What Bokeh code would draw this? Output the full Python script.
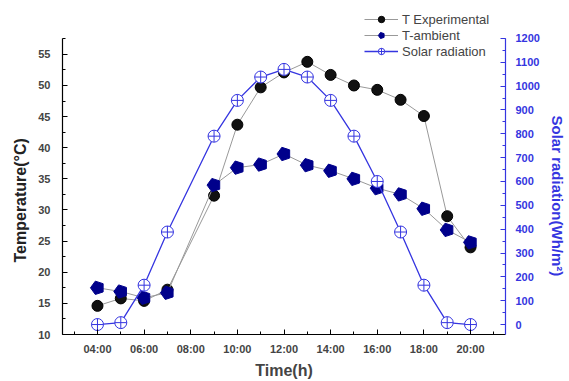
import numpy as np
from bokeh.plotting import figure
from bokeh.models import Range1d, LinearAxis, FixedTicker, Legend, LegendItem, Title
from bokeh.embed import file_html
from bokeh.resources import INLINE

hours = [4, 5, 6, 7, 9, 10, 11, 12, 13, 14, 15, 16, 17, 18, 19, 20]
t_exp = [14.6, 15.8, 15.4, 17.2, 32.3, 43.7, 49.7, 52.1, 53.8, 51.7, 50.0, 49.3, 47.7, 45.1, 29.0, 24.0]
t_amb = [17.5, 16.9, 15.9, 16.7, 34.0, 36.8, 37.3, 39.0, 37.2, 36.3, 35.0, 33.5, 32.5, 30.2, 26.8, 24.8]
solar = [0, 8, 165, 388, 790, 940, 1038, 1070, 1038, 940, 790, 600, 388, 165, 8, 0]

x_ticks = [4, 6, 8, 10, 12, 14, 16, 18, 20]
x_tick_labels = ["04:00", "06:00", "08:00", "10:00", "12:00", "14:00", "16:00", "18:00", "20:00"]
x_minor = [3, 5, 7, 9, 11, 13, 15, 17, 19, 21]
temp_ticks = [10, 15, 20, 25, 30, 35, 40, 45, 50, 55]
solar_ticks = [0, 100, 200, 300, 400, 500, 600, 700, 800, 900, 1000, 1100, 1200]

FONT = "Liberation Sans"
BLUE = "#3535E0"
NAVY = "#00008B"

TEMP_LO, TEMP_AX_HI, TEMP_HI = 10, 57.57, 62.85
SOL_LO, SOL_AX_HI, SOL_HI = -41.8, 1200, 1338

p = figure(width=569, height=381, output_backend="svg", toolbar_location=None,
           x_range=Range1d(2.5, 21.5), y_range=Range1d(TEMP_LO, TEMP_HI),
           min_border_left=62, min_border_right=64, min_border_top=5, min_border_bottom=46)
p.outline_line_color = None
p.xgrid.visible = False
p.ygrid.visible = False
p.extra_y_ranges = {"solar": Range1d(SOL_LO, SOL_HI)}

# x axis
xa = p.xaxis[0]
xa.ticker = FixedTicker(ticks=x_ticks, minor_ticks=x_minor)
xa.major_label_overrides = {t: l for t, l in zip(x_ticks, x_tick_labels)}
xa.axis_label = "Time(h)"

# left axis
ya = p.yaxis[0]
ya.ticker = FixedTicker(ticks=temp_ticks, minor_ticks=list(np.arange(10, 57.6, 2.5)))
ya.bounds = (TEMP_LO, TEMP_AX_HI)

# right axis
ra = LinearAxis(y_range_name="solar")
ra.ticker = FixedTicker(ticks=solar_ticks, minor_ticks=list(range(0, 1201, 50)))
ra.bounds = (SOL_LO, SOL_AX_HI)
p.add_layout(ra, "right")

for ax in [xa, ya, ra]:
    ax.major_tick_in = 5
    ax.major_tick_out = 0
    ax.minor_tick_in = 3
    ax.minor_tick_out = 0
    ax.major_label_text_font = FONT
    ax.major_label_text_font_style = "bold"
    ax.major_label_text_font_size = "11px"
    ax.axis_label_text_font = FONT
    ax.axis_label_text_font_style = "bold"
    ax.axis_label_text_font_size = "16px"
    ax.axis_line_width = 1.2

xa.major_label_standoff = 8
xa.axis_label_standoff = 4
ya.major_label_standoff = 12
ra.major_label_standoff = 10

ra.axis_line_color = BLUE
ra.major_tick_line_color = BLUE
ra.minor_tick_line_color = BLUE
ra.major_label_text_color = BLUE

# axis titles (as side titles so they can be placed along the drawn axis)
t_left = Title(text="Temperature(°C)", align="left", offset=72, standoff=13,
               text_font=FONT, text_font_style="bold", text_font_size="16px", text_color="#222222")
p.add_layout(t_left, "left")
t_right = Title(text="Solar radiation(Wh/m²)", align="left", offset=110, standoff=8,
                vertical_align="top",
                text_font=FONT, text_font_style="bold", text_font_size="15px", text_color=BLUE)
p.add_layout(t_right, "right")

# series
l_exp = p.line(hours, t_exp, line_color="#999999", line_width=1)
s_exp = p.scatter(hours, t_exp, marker="circle", size=11, fill_color="#111111", line_color="#000000")

l_amb = p.line(hours, t_amb, line_color="#999999", line_width=1)
s_amb = p.ngon(x=hours, y=t_amb, radius=7, radius_units="screen", n=5, angle=np.pi / 2,
               fill_color=NAVY, line_color=NAVY)

l_sol = p.line(hours, solar, y_range_name="solar", line_color=BLUE, line_width=1.3)
s_sol = p.scatter(hours, solar, y_range_name="solar", marker="circle_cross", size=12,
                  fill_color="white", line_color=BLUE, line_width=1)

legend = Legend(items=[
    LegendItem(label="T Experimental", renderers=[l_exp, s_exp]),
    LegendItem(label="T-ambient", renderers=[l_amb, s_amb]),
    LegendItem(label="Solar radiation", renderers=[l_sol, s_sol]),
], location=(302, 275))
legend.padding = 0
legend.margin = 0
legend.spacing = 0
legend.label_height = 16
legend.glyph_height = 16
legend.glyph_width = 34
legend.label_standoff = 4
legend.label_text_font = FONT
legend.label_text_font_size = "13px"
legend.border_line_alpha = 0
legend.background_fill_alpha = 0
p.add_layout(legend, "center")

open("out.html", "w").write(file_html(p, INLINE))
